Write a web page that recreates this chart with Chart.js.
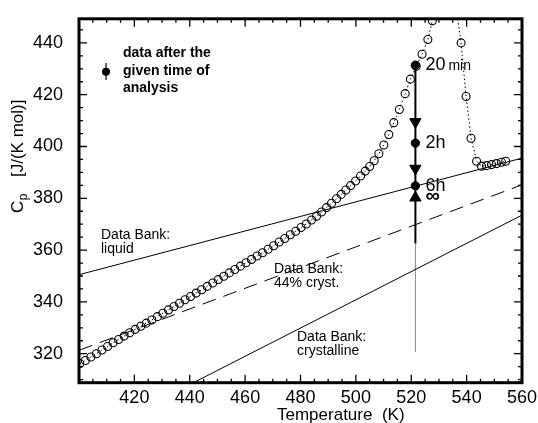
<!DOCTYPE html>
<html>
<head>
<meta charset="utf-8">
<script src="https://cdn.jsdelivr.net/npm/chart.js@4"></script>
<style>
  html, body { margin: 0; padding: 0; background: #fff; }
  canvas { display: block; }
</style>
</head>
<body>
<canvas id="cpChart" width="538" height="423"></canvas>
<script>
// Axis ticks
const xTicks = [420, 440, 460, 480, 500, 520, 540, 560];
const yTicks = [320, 340, 360, 380, 400, 420, 440];

// DSC scan (open circles)
const scanT = [
  400.3, 402.3, 404.3, 406.3, 408.3, 410.3, 412.3, 414.3, 416.3, 418.3,
  420.3, 422.3, 424.3, 426.3, 428.3, 430.3, 432.3, 434.3, 436.3, 438.3,
  440.3, 442.3, 444.3, 446.3, 448.3, 450.3, 452.3, 454.3, 456.3, 458.3,
  460.3, 462.3, 464.3, 466.3, 468.3, 470.3, 472.3, 474.3, 476.3, 478.3,
  480.2, 482.1, 484.0, 485.8, 487.6, 489.4, 491.2, 493.0, 494.7, 496.4,
  498.1, 499.9, 501.7, 503.4, 505.0, 506.6, 508.3, 510.1, 511.9, 513.7,
  515.7, 517.8, 519.7, 521.8, 523.9, 526.0, 527.6, 532.0, 538.0, 539.8,
  541.6, 543.6, 545.4, 547.2, 549.0, 550.8, 552.6, 554.1
];
const scanCp = [
  316.2, 317.4, 318.7, 320.0, 321.4, 322.8, 324.2, 325.5, 326.8, 328.1,
  329.4, 330.6, 331.8, 333.0, 334.3, 335.6, 336.9, 338.2, 339.5, 340.8,
  342.1, 343.4, 344.7, 346.0, 347.3, 348.6, 349.9, 351.2, 352.5, 353.8,
  355.1, 356.4, 357.7, 359.0, 360.3, 361.7, 363.1, 364.5, 365.9, 367.3,
  368.7, 370.1, 371.6, 373.1, 374.7, 376.4, 378.1, 379.8, 381.5, 383.2,
  384.9, 386.7, 388.6, 390.5, 392.3, 394.5, 397.2, 400.6, 404.6, 409.2,
  414.3, 420.4, 426.0, 431.0, 435.6, 441.3, 448.5, 485.0, 440.0, 419.3,
  403.2, 394.3, 392.4, 392.6, 393.0, 393.4, 393.9, 394.3
];

// Data Bank reference lines
const bankT = [400, 560];
const liquidCp = [350.5, 395.5];
const cryst44Cp = [321.3, 385.2];
const crystCp = [286.3, 373.5];

// isothermal annealing at 521.5 K
const annealT = 521.5;
const timeLabels = ['20 min', '2h', '6h'];
const timeCp = [431.4, 401.3, 384.8];
const arrowCp = [409.5, 391.5];
const equilCp = 380.2;
const stemCp = [320.6, 362.5, 431.4];

const pts = (xs, ys) => xs.map((x, i) => ({x: x, y: ys[i]}));
const FONT = '"Liberation Sans", Arial, sans-serif';

Chart.defaults.color = '#000';
Chart.defaults.font.family = FONT;

const decorations = {
  id: 'decorations',
  afterDraw(chart) {
    const {ctx, chartArea: a, scales: {x, y}} = chart;
    ctx.save();
    ctx.strokeStyle = '#000';
    ctx.fillStyle = '#000';

    // inward ticks on all four sides
    ctx.lineWidth = 1.3;
    ctx.beginPath();
    for (let t = 400; t <= 560; t += 5) {
      const px = x.getPixelForValue(t);
      const len = t % 20 === 0 ? 8 : 4;
      ctx.moveTo(px, a.bottom); ctx.lineTo(px, a.bottom - len);
      ctx.moveTo(px, a.top); ctx.lineTo(px, a.top + len);
    }
    for (let v = 310; v <= 445; v += 5) {
      const py = y.getPixelForValue(v);
      const len = v % 20 === 0 ? 8 : 4;
      ctx.moveTo(a.left, py); ctx.lineTo(a.left + len, py);
      ctx.moveTo(a.right, py); ctx.lineTo(a.right - len, py);
    }
    ctx.stroke();

    // frame
    ctx.lineWidth = 3;
    ctx.strokeRect(a.left, a.top, a.right - a.left, a.bottom - a.top);

    // axis titles
    ctx.textBaseline = 'alphabetic';
    ctx.textAlign = 'left';
    ctx.font = '17px ' + FONT;
    ctx.fillText('Temperature  (K)', 277, 420);

    ctx.save();
    ctx.translate(23, 213);
    ctx.rotate(-Math.PI / 2);
    ctx.font = '17px ' + FONT;
    ctx.fillText('C', 0, 0);
    const cw = ctx.measureText('C').width;
    ctx.font = '12px ' + FONT;
    ctx.fillText('p', cw + 0.5, 4);
    ctx.font = '17px ' + FONT;
    ctx.fillText('[J/(K mol)]', 36, 0);
    ctx.restore();

    // legend
    ctx.lineWidth = 1.2;
    ctx.beginPath();
    ctx.moveTo(106, 63); ctx.lineTo(106, 80);
    ctx.stroke();
    ctx.beginPath();
    ctx.arc(106, 71.7, 4, 0, Math.PI * 2);
    ctx.fill();
    ctx.font = 'bold 14px ' + FONT;
    ctx.textBaseline = 'middle';
    ['data after the', 'given time of', 'analysis'].forEach((s, i) => {
      ctx.fillText(s, 123, 53.5 + i * 17.5);
    });

    // Data Bank labels
    ctx.font = '14px ' + FONT;
    const bank = [
      [101, 235, 'Data Bank:', 'liquid'],
      [274, 269, 'Data Bank:', '44% cryst.'],
      [297, 337, 'Data Bank:', 'crystalline']
    ];
    bank.forEach(([bx, by, l1, l2]) => {
      ctx.fillText(l1, bx, by);
      ctx.fillText(l2, bx, by + 14.5);
    });

    // time labels
    const lx = x.getPixelForValue(annealT) + 10;
    timeLabels.forEach((s, i) => {
      const py = y.getPixelForValue(timeCp[i]);
      if (s.endsWith('min')) {
        ctx.font = '18px ' + FONT;
        ctx.fillText('20', lx, py);
        const w = ctx.measureText('20 ').width;
        ctx.font = '14px ' + FONT;
        ctx.fillText('min', lx + w - 2, py + 1);
      } else {
        ctx.font = '18px ' + FONT;
        ctx.fillText(s, lx, py);
      }
    });
    ctx.font = 'bold 20px ' + FONT;
    ctx.fillText('\u221E', lx, y.getPixelForValue(equilCp) - 1);

    ctx.restore();
  }
};

const fixLeft = s => { s.width = 79; };
const fixBottom = s => { s.height = 40.3; };

new Chart(document.getElementById('cpChart'), {
  type: 'scatter',
  data: {
    datasets: [
      {
        data: pts(bankT, liquidCp), showLine: true, pointRadius: 0,
        borderColor: '#000', borderWidth: 1
      },
      {
        data: pts(bankT, cryst44Cp), showLine: true, pointRadius: 0,
        borderColor: '#000', borderWidth: 1, borderDash: [14, 8]
      },
      {
        data: pts(bankT, crystCp), showLine: true, pointRadius: 0,
        borderColor: '#000', borderWidth: 1
      },
      {
        data: pts(scanT, scanCp), showLine: true,
        borderColor: '#000', borderWidth: 1, borderDash: [1.5, 2.5],
        pointRadius: 4, pointBorderWidth: 1.1,
        pointBorderColor: '#000', pointBackgroundColor: 'rgba(255,255,255,0)'
      },
      {
        data: pts([annealT, annealT], [stemCp[0], stemCp[1]]), showLine: true,
        pointRadius: 0, borderColor: '#888', borderWidth: 1
      },
      {
        data: pts([annealT, annealT], [stemCp[1], stemCp[2]]), showLine: true,
        pointRadius: 0, borderColor: '#000', borderWidth: 2
      },
      {
        data: pts(arrowCp.map(() => annealT), arrowCp),
        pointStyle: 'triangle', rotation: 180, pointRadius: 6.5,
        pointBackgroundColor: '#000', pointBorderColor: '#000', pointBorderWidth: 1
      },
      {
        data: pts([annealT], [equilCp]),
        pointStyle: 'triangle', rotation: 0, pointRadius: 6.5,
        pointBackgroundColor: '#000', pointBorderColor: '#000', pointBorderWidth: 1
      },
      {
        data: pts(timeCp.map(() => annealT), timeCp),
        pointRadius: 4.2, pointBackgroundColor: '#000', pointBorderColor: '#000'
      }
    ]
  },
  options: {
    responsive: false,
    animation: false,
    layout: { padding: { left: 0, top: 14, right: 16, bottom: 0 } },
    plugins: { legend: { display: false }, tooltip: { enabled: false } },
    scales: {
      x: {
        type: 'linear', min: 400, max: 560,
        afterFit: fixBottom,
        afterBuildTicks: s => { s.ticks = xTicks.map(v => ({value: v})); },
        grid: { display: false },
        border: { display: false },
        ticks: { font: { size: 18 }, padding: -3, maxRotation: 0 }
      },
      y: {
        type: 'linear', min: 308.8, max: 449.3,
        afterFit: fixLeft,
        afterBuildTicks: s => { s.ticks = yTicks.map(v => ({value: v})); },
        grid: { display: false },
        border: { display: false },
        ticks: { font: { size: 18 }, padding: 8 }
      }
    }
  },
  plugins: [decorations]
});
</script>
</body>
</html>
